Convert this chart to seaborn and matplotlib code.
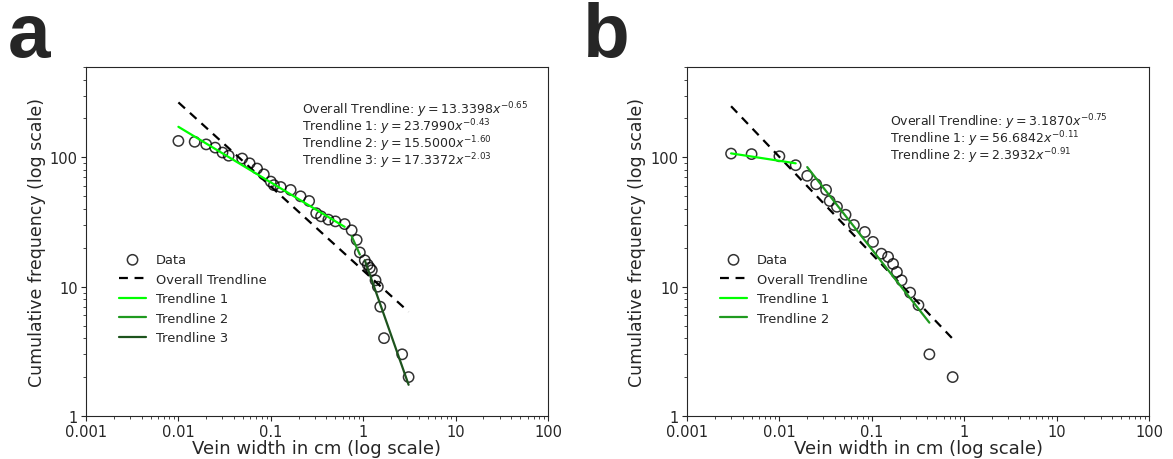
import numpy as np
import pandas as pd
import matplotlib
matplotlib.use("Agg")
import matplotlib.pyplot as plt
import matplotlib.ticker as mticker
import seaborn as sns

# ---------------- data: panel a ----------------
a_width = [0.010, 0.015, 0.020, 0.025, 0.030, 0.035, 0.049, 0.059, 0.071, 0.084,
           0.100, 0.108, 0.128, 0.164, 0.21, 0.26, 0.31, 0.35, 0.42, 0.50, 0.63,
           0.75, 0.85, 0.92, 1.04, 1.12, 1.18, 1.24, 1.36, 1.44, 1.53, 1.68, 2.64, 3.1]
a_freq = [134, 132, 126, 119, 109, 103, 98, 90, 82, 74,
          65, 61, 59, 56, 50, 46, 37, 35, 33, 32, 30.5,
          27.3, 23, 18.4, 16, 14.8, 14, 13.4, 11.2, 10, 7, 4, 3, 2]
# segment membership (index ranges into the data arrays)
a_segments = [(0, 21), (21, 24), (24, 34)]
a_overall = (13.3398, -0.65)
a_fits = [(23.7990, -0.43), (15.5000, -1.60), (17.3372, -2.03)]

# ---------------- data: panel b ----------------
b_width = [0.003, 0.005, 0.010, 0.015, 0.020, 0.025, 0.032, 0.035, 0.042, 0.052,
           0.064, 0.084, 0.103, 0.127, 0.150, 0.170, 0.187, 0.21, 0.26, 0.32, 0.42, 0.75]
b_freq = [107, 106, 102, 87, 72, 62, 56, 46, 41.5, 36,
          30, 26.5, 22.2, 18, 17, 15, 13, 11.2, 9, 7.2, 3, 2]
b_segments = [(0, 4), (4, 21)]
b_overall = (3.1870, -0.75)
b_fits = [(56.6842, -0.11), (2.3932, -0.91)]

x_ticks = [0.001, 0.01, 0.1, 1, 10, 100]
x_ticklabels = ["0.001", "0.01", "0.1", "1", "10", "100"]
y_ticks = [1, 10, 100]
y_ticklabels = ["1", "10", "100"]

trend_colors = ["#00ff00", "#1f9a1f", "#1d531d"]

sns.set_style("ticks")
plt.rcParams['font.family'] = ['DejaVu Sans']
plt.rcParams['mathtext.fontset'] = 'dejavusans'

fig = plt.figure(figsize=(11.73, 4.6), dpi=100)
ax_a = fig.add_axes([86 / 1173, 43 / 460, 462 / 1173, 349 / 460])
ax_b = fig.add_axes([687 / 1173, 43 / 460, 462 / 1173, 349 / 460])


def draw_panel(ax, xs, ys, overall, fits, segments, text_xy):
    xs = np.asarray(xs, dtype=float)
    ys = np.asarray(ys, dtype=float)
    sns.scatterplot(x=xs, y=ys, ax=ax, marker='o', s=55, facecolor='none',
                    edgecolor='black', linewidth=1.1, alpha=0.8, label='Data', zorder=3)
    xo = np.array([xs.min(), xs.max()])
    sns.lineplot(x=xo, y=overall[0] * xo ** overall[1], ax=ax, color='black',
                 linestyle=(0, (4, 3)), linewidth=1.6, label='Overall Trendline',
                 zorder=4)
    for i, ((c, p), (s0, s1)) in enumerate(zip(fits, segments)):
        seg = xs[s0:s1]
        xx = np.array([seg.min(), seg.max()])
        sns.lineplot(x=xx, y=c * xx ** p, ax=ax, color=trend_colors[i],
                     linewidth=1.6, label=f'Trendline {i + 1}', zorder=4)
    ax.set_xscale('log')
    ax.set_yscale('log')
    ax.set_xlim(0.001, 100)
    ax.set_ylim(1, 500)
    ax.set_xticks(x_ticks)
    ax.set_xticklabels(x_ticklabels)
    ax.set_yticks(y_ticks)
    ax.set_yticklabels(y_ticklabels)
    ax.yaxis.set_minor_formatter(mticker.NullFormatter())
    ax.xaxis.set_minor_formatter(mticker.NullFormatter())
    ax.tick_params(which='major', labelsize=10.5, length=3.5, pad=2.5)
    ax.tick_params(which='minor', length=2)
    ax.set_xlabel('Vein width in cm (log scale)', fontsize=13, labelpad=0)
    ax.set_ylabel('Cumulative frequency (log scale)', fontsize=12.5, labelpad=3)
    lines = [f'Overall Trendline: $y = {overall[0]:.4f}x^{{{overall[1]:.2f}}}$']
    for i, (c, p) in enumerate(fits):
        lines.append(f'Trendline {i + 1}: $y = {c:.4f}x^{{{p:.2f}}}$')
    for k, line in enumerate(lines):
        ax.annotate(line, xy=text_xy, xycoords='axes fraction',
                    xytext=(0, -12.4 * k), textcoords='offset points',
                    fontsize=9.0, va='center', ha='left')
    ax.legend(loc='upper left', bbox_to_anchor=(0.047, 0.50), frameon=False,
              fontsize=9.4, handlelength=2.0, labelspacing=0.5)


draw_panel(ax_a, a_width, a_freq, a_overall, a_fits, a_segments, (0.467, 0.88))
draw_panel(ax_b, b_width, b_freq, b_overall, b_fits, b_segments, (0.439, 0.845))

fig.text(0.007, 0.875, 'a', fontsize=55, fontweight='bold', family='Liberation Sans')
fig.text(0.497, 0.875, 'b', fontsize=55, fontweight='bold', family='Liberation Sans')

fig.savefig('out.png', dpi=100)
